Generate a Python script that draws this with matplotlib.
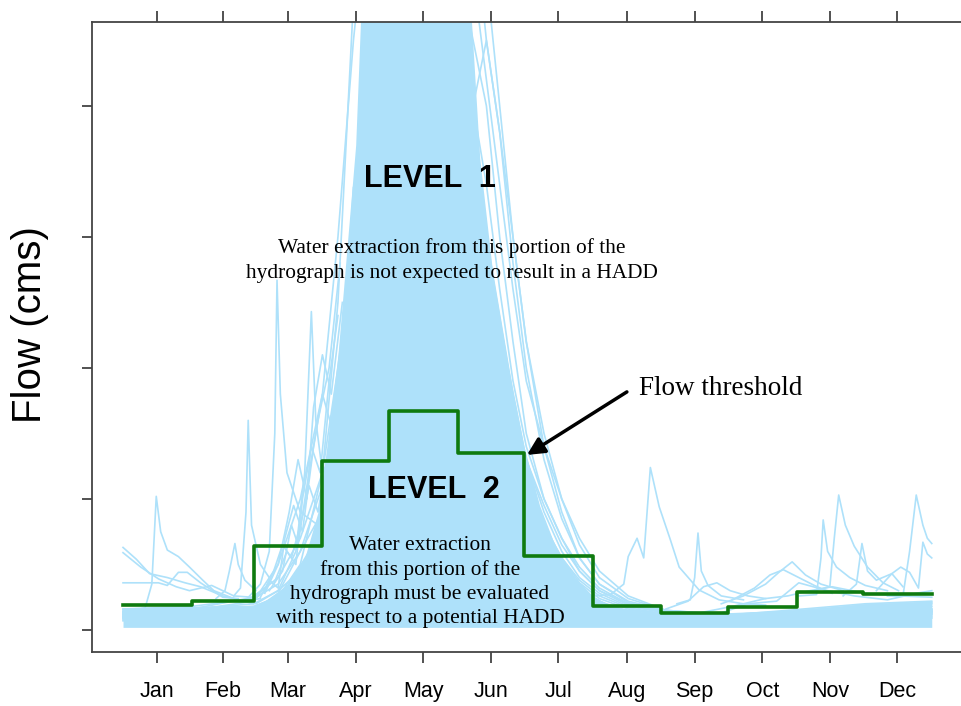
import matplotlib
matplotlib.use("Agg")
import matplotlib.pyplot as plt

# ---- data (day of year, flow) ----
months = ["Jan", "Feb", "Mar", "Apr", "May", "Jun",
          "Jul", "Aug", "Sep", "Oct", "Nov", "Dec"]
month_mid = [15.5, 45, 74.5, 105, 135.5, 166, 196.5, 227.5, 258, 288.5, 319, 349.5]
month_start = [0, 31, 59, 90, 120, 151, 181, 212, 243, 273, 304, 334, 365]

# monthly flow threshold (green step line)
threshold = [1.9, 2.2, 6.4, 12.9, 16.7, 13.5, 5.65, 1.83, 1.3, 1.76, 2.9, 2.75]

# dense core of the overlapping yearly hydrographs
core_days = [0, 31, 59, 66, 74, 82, 88, 92, 97, 101, 105, 108, 156, 161, 167,
             174, 181, 188, 196, 204, 212, 222, 240, 270, 300, 335, 365]
core_low = [0.2, 0.2, 0.2, 0.2, 0.2, 0.2, 0.2, 0.2, 0.2, 0.2, 0.2, 0.2, 0.2, 0.2, 0.2,
            0.2, 0.2, 0.2, 0.2, 0.2, 0.2, 0.2, 0.2, 0.2, 0.2, 0.2, 0.2]
core_high = [1.7, 1.8, 1.9, 2.4, 3.5, 5.5, 9, 14, 21, 29, 37, 50, 50, 36, 27,
             20, 14, 9.5, 6, 4, 2.6, 1.7, 1.1, 1.1, 1.4, 2.0, 2.2]

# individual years sampled on a shared day grid
grid_days = [0, 31, 59, 70, 80, 90, 97, 104, 110, 116, 122, 128, 134, 140, 146, 152,
             158, 164, 170, 176, 182, 190, 198, 206, 215, 228, 245, 270, 300, 335, 365]
yr01 = [1.2, 1.3, 1.6, 2.5, 5, 12, 25, 48, 60, 55, 50, 45, 40, 35, 28, 22,
        17, 13, 10, 8, 6, 4.5, 3.3, 2.5, 1.8, 1.3, 1.0, 0.9, 1.0, 1.2, 1.3]
yr02 = [1.0, 1.1, 1.3, 1.6, 2.2, 3.5, 6, 9, 14, 20, 30, 42, 55, 60, 58, 50,
        45, 40, 30, 22, 15, 10, 7, 4.8, 3.2, 2.0, 1.3, 1.0, 1.1, 1.3, 1.4]
yr03 = [1.5, 1.6, 2.0, 3.0, 4.5, 8, 14, 22, 35, 50, 55, 50, 48, 44, 38, 30,
        22, 16, 12, 9, 7, 5, 3.6, 2.7, 2.0, 1.4, 1.1, 1.0, 1.2, 1.6, 1.8]
yr04 = [0.8, 0.9, 1.1, 1.5, 2.5, 4.5, 7, 10, 14, 18, 22, 26, 28, 30, 27, 22,
        17, 13, 10, 7.5, 5.5, 4, 3, 2.2, 1.6, 1.1, 0.8, 0.6, 0.7, 0.9, 1.0]
yr05 = [1.1, 1.2, 1.4, 1.8, 2.4, 3.5, 5, 7, 10, 15, 22, 30, 40, 52, 60, 62,
        55, 45, 38, 28, 20, 13, 8.5, 5.5, 3.5, 2.2, 1.5, 1.2, 1.3, 1.5, 1.6]
yr06 = [1.3, 1.5, 2.2, 5, 10, 18, 30, 45, 55, 52, 46, 40, 35, 30, 25, 20,
        15, 11, 8.5, 6.5, 5, 3.8, 3, 2.3, 1.7, 1.2, 0.9, 0.8, 0.9, 1.1, 1.3]
yr07 = [0.9, 1.0, 1.2, 1.8, 3, 6, 10, 16, 25, 38, 48, 58, 52, 45, 38, 33,
        28, 24, 20, 16, 12, 8, 5.5, 3.8, 2.6, 1.7, 1.2, 0.9, 1.0, 1.2, 1.2]
yr08 = [1.2, 1.2, 1.4, 1.7, 2.5, 4, 6.5, 10, 15, 20, 26, 33, 40, 48, 52, 48,
        40, 34, 26, 19, 14, 10, 7, 4.5, 3, 1.9, 1.3, 1.0, 1.1, 1.4, 1.5]
yr09 = [1.0, 1.1, 1.5, 2.8, 6, 11, 16, 20, 23, 24, 22, 19, 16, 14, 12, 10,
        8.5, 7, 5.8, 4.8, 4, 3.2, 2.5, 2, 1.5, 1.1, 0.8, 0.7, 0.8, 1.0, 1.1]
yr10 = [1.4, 1.5, 1.8, 2.5, 4, 7, 12, 18, 28, 40, 52, 60, 56, 50, 44, 40,
        36, 30, 24, 18, 13, 9, 6, 4, 2.8, 1.8, 1.3, 1.1, 1.2, 1.5, 1.6]
yr11 = [1.1, 1.2, 1.4, 1.7, 2.3, 3.5, 5.5, 8, 12, 17, 23, 30, 36, 40, 42, 38,
        40, 45, 38, 30, 22, 14, 9, 5.5, 3.5, 2.1, 1.4, 1.1, 1.2, 1.4, 1.5]
yr12 = [0.7, 0.8, 1.0, 1.3, 2, 3.5, 6, 9, 12, 15, 17, 19, 20, 19, 17, 14,
        11, 9, 7, 5.5, 4.2, 3.2, 2.4, 1.8, 1.3, 0.9, 0.6, 0.5, 0.6, 0.8, 0.9]
yr13 = [1.3, 1.4, 1.7, 2.2, 3.5, 6, 9, 14, 20, 28, 36, 44, 50, 48, 42, 36,
        30, 24, 19, 15, 11, 8, 5.5, 3.6, 2.4, 1.6, 1.1, 0.9, 1.0, 1.3, 1.4]
yr14 = [1.0, 1.1, 1.3, 1.6, 2.0, 2.8, 4, 6, 9, 13, 18, 25, 33, 42, 50, 55,
        50, 42, 34, 26, 19, 14, 10, 7, 4.5, 2.6, 1.5, 1.1, 1.1, 1.3, 1.4]
yr15 = [1.4, 1.6, 2.5, 4, 7, 12, 20, 30, 38, 34, 30, 26, 22, 19, 16, 13,
        11, 9, 7.5, 6, 5, 4, 3.2, 2.5, 2, 1.5, 1.2, 1.1, 1.5, 2.0, 2.2]
yr16 = [1.2, 1.3, 1.5, 1.9, 2.6, 4, 6, 9, 13, 18, 25, 33, 42, 50, 58, 65,
        60, 50, 40, 30, 22, 15, 10, 6.5, 4, 2.4, 1.5, 1.2, 1.4, 1.8, 2.0]
yr17 = [0.9, 1.0, 1.3, 2.0, 3.5, 7, 13, 21, 32, 45, 58, 55, 47, 40, 34, 28,
        23, 19, 15, 12, 9, 6.5, 4.5, 3.2, 2.2, 1.4, 1.0, 0.8, 0.9, 1.1, 1.2]
yr18 = [1.6, 1.8, 2.4, 3.5, 6, 9, 14, 12, 18, 26, 22, 30, 38, 33, 40, 36,
        30, 26, 21, 17, 13, 9.5, 6.5, 4.5, 3.0, 2.0, 1.3, 1.1, 1.4, 1.9, 2.1]

# storm events drawn as their own short records
jan_days = [0, 5, 10, 13, 15, 17, 20, 25, 30, 36, 41, 50, 59]
jan_q = [1.6, 1.5, 1.7, 3.5, 10.2, 7.5, 6.1, 5.6, 4.8, 3.8, 3.0, 2.4, 2.0]
jan2_days = [0, 6, 12, 20, 28, 35, 45, 55, 62]
jan2_q = [6.3, 5.4, 4.3, 4.0, 3.6, 3.3, 2.6, 2.2, 2.4]
jan3_days = [0, 8, 16, 24, 30, 40, 50, 58, 64]
jan3_q = [5.9, 4.8, 3.9, 3.3, 3.0, 3.4, 2.6, 2.5, 3.2]
jan4_days = [0, 16, 20, 25, 29, 35, 45, 52]
jan4_q = [3.6, 3.6, 3.4, 4.4, 4.4, 3.6, 2.5, 2.4]
feb_days = [50, 53, 55.5, 56.5, 58, 62, 66]
feb_q = [2.6, 3.2, 9, 16, 8, 5, 4]
feb2_days = [42, 46, 48, 50.5, 52, 55, 60]
feb2_q = [2.4, 3.0, 4.5, 6.6, 5.0, 3.8, 3.0]
mar_days = [55, 62, 66, 68.5, 69.5, 71, 74, 80, 88, 95]
mar_q = [2.2, 3.5, 6, 15, 26.7, 18, 12, 9, 8, 10]
mar2_days = [60, 70, 78, 82, 85, 87, 90, 96, 104]
mar2_q = [2.0, 3, 6, 12, 24.3, 16, 12, 14, 20]
mar3_days = [59, 64, 68, 72, 76, 80, 84, 88, 92]
mar3_q = [2.3, 3.0, 4.5, 6.5, 5.5, 8, 11, 9, 13]
mar4_days = [62, 66, 70, 73, 77, 81, 86, 90, 95, 100]
mar4_q = [2.5, 3.8, 3.2, 7, 9.5, 7.5, 14, 18, 15, 22]
mar5_days = [66, 72, 76, 79, 83, 88, 93, 98]
mar5_q = [3, 4.5, 8, 6.5, 11, 16, 20, 28]
mar6_days = [64, 70, 75, 79, 83, 86, 90, 94, 99]
mar6_q = [2.8, 5, 9, 13, 10, 17, 21, 18, 25]
mar7_days = [68, 74, 78, 81, 85, 89, 93, 97]
mar7_q = [3.5, 6, 5, 10, 14, 12, 19, 24]
apr_days = [75, 84, 90, 97, 101, 104, 107, 112]
apr_q = [3.5, 6, 9, 15, 25, 33.8, 28, 40]
aug_days = [212, 220, 226, 228, 232, 235, 238, 242, 247, 251, 260, 269, 280, 290]
aug_q = [2.6, 2.7, 3.5, 5.6, 7.0, 5.5, 12.4, 9.4, 6.9, 4.8, 3.05, 2.3, 2.0, 1.9]
sep_days = [250, 256, 258, 259.5, 261, 264, 270, 280]
sep_q = [2.0, 2.3, 4, 7.4, 4.5, 3.4, 2.6, 2.3]
sep2_days = [245, 255, 262, 268, 274, 282, 290]
sep2_q = [1.6, 2.2, 3.3, 3.6, 3.0, 2.6, 2.4]
oct_days = [270, 280, 290, 296, 302, 308, 315, 325]
oct_q = [2.0, 2.6, 3.5, 4.4, 5.2, 4.2, 3.5, 3.0]
oct2_days = [275, 285, 292, 298, 305, 312, 320]
oct2_q = [2.3, 3.2, 4.2, 4.6, 4.0, 3.4, 2.8]
nov_days = [305, 313, 315, 316, 318, 322, 328, 335, 345]
nov_q = [2.6, 2.7, 5.5, 8.4, 6, 4.8, 4.0, 3.4, 3.0]
nov2_days = [312, 319, 321, 323, 326, 330, 336, 343, 350]
nov2_q = [3.0, 3.3, 7, 10.3, 8, 6.4, 4.8, 3.6, 3.0]
nov3_days = [325, 331, 333.5, 336, 340, 347, 352]
nov3_q = [2.6, 3.5, 6.6, 4.5, 3.8, 4.3, 3.3]
dec_days = [345, 352, 355, 358, 361, 363, 365]
dec_q = [2.6, 2.6, 6, 10.3, 8, 7, 6.6]
dec2_days = [340, 347, 351, 355, 359, 361, 363, 365]
dec2_q = [3.0, 4.3, 4.8, 4.4, 3.2, 6.7, 5.8, 5.5]
fall_days = [230, 245, 260, 275, 290, 300, 310, 320, 335, 350, 365]
fall_q = [1.5, 1.2, 1.3, 1.8, 2.4, 2.6, 3.0, 3.3, 2.8, 2.6, 2.5]
fall2_days = [240, 255, 270, 282, 295, 305, 318, 330, 345, 358, 365]
fall2_q = [1.1, 1.0, 1.3, 2.0, 2.2, 3.6, 3.0, 2.6, 2.3, 2.8, 3.0]

years = [yr01, yr02, yr03, yr04, yr05, yr06, yr07, yr08, yr09,
         yr10, yr11, yr12, yr13, yr14, yr15, yr16, yr17, yr18]
events = [(jan_days, jan_q), (jan2_days, jan2_q), (jan3_days, jan3_q), (jan4_days, jan4_q),
          (feb_days, feb_q), (feb2_days, feb2_q), (mar_days, mar_q), (mar2_days, mar2_q),
          (mar3_days, mar3_q), (mar4_days, mar4_q), (mar5_days, mar5_q),
          (mar6_days, mar6_q), (mar7_days, mar7_q),
          (apr_days, apr_q), (aug_days, aug_q), (sep_days, sep_q), (sep2_days, sep2_q),
          (oct_days, oct_q), (oct2_days, oct2_q), (nov_days, nov_q), (nov2_days, nov2_q),
          (nov3_days, nov3_q), (dec_days, dec_q), (dec2_days, dec2_q),
          (fall_days, fall_q), (fall2_days, fall2_q)]

plt.rcParams['font.family'] = ['Liberation Sans', 'DejaVu Sans']
blue = '#aee1fa'
serif = ['Liberation Serif', 'DejaVu Serif']

fig = plt.figure(figsize=(9.61, 7.06), dpi=100)
ax = fig.add_axes([92 / 961, 1 - 652 / 706, (961 - 92) / 961, (652 - 22) / 706])

ax.fill_between(core_days, core_low, core_high, color=blue, lw=0)
for q in years:
    ax.plot(grid_days, q, color=blue, lw=1.2)
for d, q in events:
    ax.plot(d, q, color=blue, lw=1.2)

# threshold
ax.step(month_start, threshold + [threshold[-1]], where='post', color='#0f7a0f', lw=2.6)

ax.set_xlim(-14, 378.2)
ax.set_ylim(-1.68, 46.4)

ax.set_xticks(month_mid)
ax.set_xticklabels(months, fontsize=15.5)
ax.set_yticks([0, 10, 20, 30, 40])
ax.set_yticklabels([])
ax.tick_params(axis='x', top=True, direction='out', length=8, width=1.2, pad=13,
               colors='#333333', labelcolor='black')
ax.tick_params(axis='y', direction='out', length=7, width=1.2, colors='#333333')
for s in ['left', 'bottom', 'top']:
    ax.spines[s].set_color('#444444')
    ax.spines[s].set_linewidth(1.3)
ax.spines['right'].set_visible(False)

fig.text(30 / 961, 1 - 325 / 706, 'Flow (cms)', rotation=90, ha='center', va='center', fontsize=29)

ax.text(138.7, 33.84, 'LEVEL  1', ha='center', va='baseline', fontsize=22, fontweight='bold')
ax.text(140.1, 10.08, 'LEVEL  2', ha='center', va='baseline', fontsize=22, fontweight='bold')

# va='baseline' on multi-line text pins the last line's baseline
ax.text(148.4, 26.87, 'Water extraction from this portion of the\nhydrograph is not expected to result in a HADD',
        ha='center', va='baseline', multialignment='center', fontsize=15.4,
        family=serif, linespacing=1.4)
ax.text(134.0, 0.53, 'Water extraction\nfrom this portion of the\nhydrograph must be evaluated\nwith respect to a potential HADD',
        ha='center', va='baseline', multialignment='center', fontsize=15.4,
        family=serif, linespacing=1.36)

ax.annotate('', xy=(182.3, 13.36), xytext=(227.4, 18.17),
            arrowprops=dict(arrowstyle='-|>', color='black', lw=2.5, mutation_scale=26,
                            shrinkA=0, shrinkB=0))
ax.text(232.8, 17.94, 'Flow threshold', ha='left', va='baseline', fontsize=19.5, family=serif)

fig.savefig('out.png', dpi=100)
